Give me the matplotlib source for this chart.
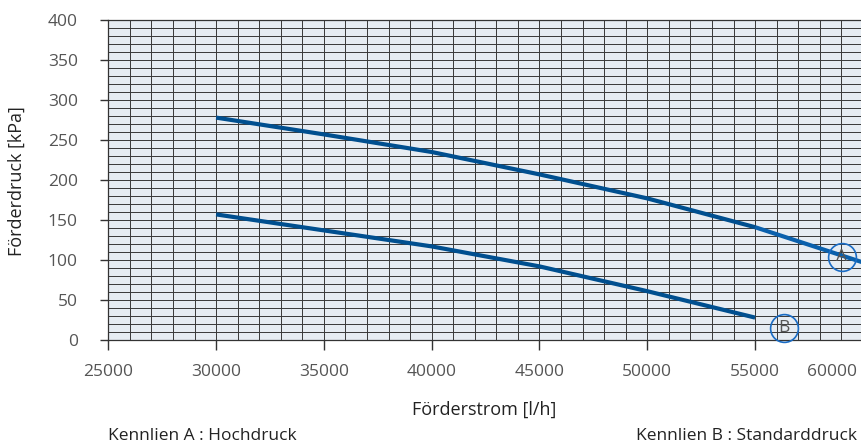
import matplotlib
matplotlib.use("Agg")
import matplotlib.pyplot as plt
from matplotlib.ticker import MultipleLocator

plt.rcParams['font.family'] = ['Open Sans', 'DejaVu Sans']

# Data
flow_a = [30000, 35000, 40000, 45000, 50000, 55000]
head_a = [278, 257, 235, 207, 177, 141]
flow_a_tail = [55000, 60000, 61000]
head_a_tail = [141, 97, 87]
flow_b = [30000, 35000, 40000, 45000, 50000, 55000]
head_b = [157, 137, 117, 92, 61, 28]
marker_a = (59016, 104)
marker_b = (56354, 15)

x_ticks = [25000, 30000, 35000, 40000, 45000, 50000, 55000, 60000]
x_tick_labels = ['25000', '30000', '35000', '40000', '45000', '50000', '55000', '60000']
y_ticks = [0, 50, 100, 150, 200, 250, 300, 350, 400]

W, H = 861, 447
fig = plt.figure(figsize=(W / 100, H / 100), dpi=100)
x0, x1 = 25000, 61000
px_per_unit = 21.56 / 1000
left = 108.3 / W
width = (x1 - x0) * px_per_unit / W
bottom = (H - 340) / H
height = 320 / H
ax = fig.add_axes([left, bottom, width, height])
ax.set_xlim(x0, x1)
ax.set_ylim(0, 400)
ax.set_facecolor('#e6ecf2')

tick_len = 7
tick_pad = 10
ax.xaxis.set_minor_locator(MultipleLocator(1000))
ax.yaxis.set_minor_locator(MultipleLocator(10))
ax.set_xticks(x_ticks)
# last label is drawn separately (right-aligned so it stays inside the figure)
ax.set_xticklabels(x_tick_labels[:-1] + [''])
ax.set_yticks(y_ticks)
ax.grid(which='both', color='#383838', linewidth=0.7)
ax.set_axisbelow(True)

ax.tick_params(axis='both', which='minor', length=0)
ax.tick_params(axis='y', which='major', length=6, width=1, color='#333333',
               pad=16, labelsize=12.5, labelcolor='#555555')
ax.tick_params(axis='x', which='major', length=tick_len, width=1, color='#333333',
               pad=tick_pad, labelsize=12.5, labelcolor='#555555')
for s in ax.spines.values():
    s.set_color('#333333')
    s.set_linewidth(0.9)

ax.annotate(x_tick_labels[-1], xy=(x_ticks[-1], 0), xycoords=('data', 'axes fraction'),
            xytext=(-4, -(tick_len + tick_pad)), textcoords='offset points',
            ha='right', va='top', fontsize=12.5, color='#555555', annotation_clip=False)

ax.plot(flow_a, head_a, color='#004f8f', linewidth=3.0, solid_capstyle='butt', zorder=3)
ax.plot(flow_a_tail, head_a_tail, color='#0a60ac', linewidth=3.0, solid_capstyle='butt', zorder=3)
ax.plot(flow_b, head_b, color='#004f8f', linewidth=3.0, solid_capstyle='butt', zorder=3)

for (mx, my), lab in [(marker_a, 'A'), (marker_b, 'B')]:
    ax.plot([mx], [my], marker='o', markersize=20, markerfacecolor='none',
            markeredgecolor='#1a6cc4', markeredgewidth=1.2, zorder=4, clip_on=False)
    ax.text(mx, my, lab, ha='center', va='center', fontsize=12.5, color='#555555', zorder=5)

fig.text(484 / W, 1 - 410 / H, 'Förderstrom [l/h]', ha='center', va='center',
         fontsize=13, color='#222222')
fig.text(17 / W, 1 - 181 / H, 'Förderdruck [kPa]', ha='center', va='center',
         rotation=90, fontsize=13, color='#222222')
fig.text(108 / W, 1 - 436 / H, 'Kennlien A : Hochdruck', ha='left', va='center',
         fontsize=12.5, color='#222222')
fig.text(857 / W, 1 - 436 / H, 'Kennlien B : Standarddruck', ha='right', va='center',
         fontsize=12.5, color='#222222')

fig.savefig('out.png', dpi=100)
